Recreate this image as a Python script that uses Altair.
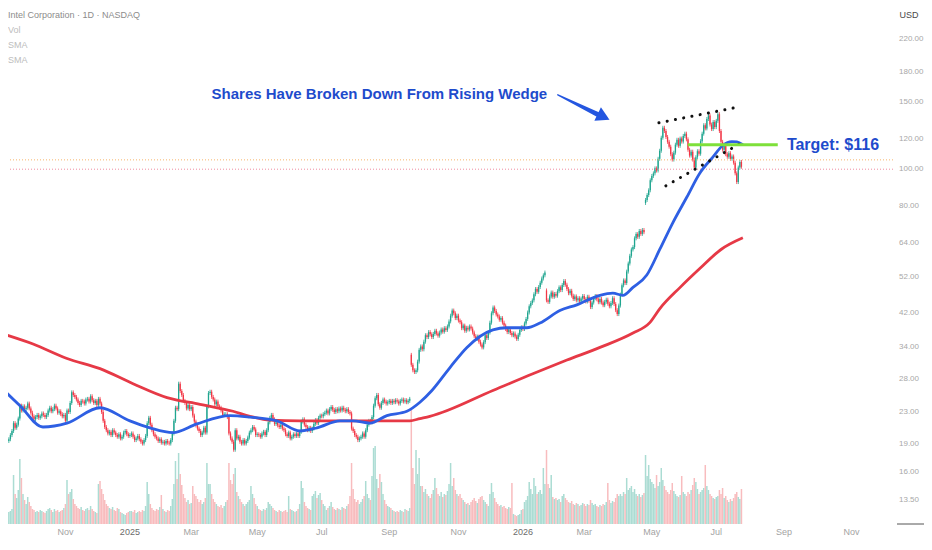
import altair as alt
import numpy as np
import pandas as pd

# ---------------- data ----------------
holidays = ["2024-09-02", "2024-11-28", "2024-12-25", "2025-01-01", "2025-01-09",
            "2025-01-20", "2025-02-17", "2025-04-18", "2025-05-26", "2025-06-19",
            "2025-07-04", "2025-09-01", "2025-11-27", "2025-12-25", "2026-01-01",
            "2026-01-19", "2026-02-16", "2026-04-03", "2026-05-25", "2026-06-19",
            "2026-07-03", "2026-09-07", "2026-11-26", "2026-12-25"]

close_2024_09 = [20.3, 19.9, 19.6, 18.9, 18.9, 19.1, 19.3, 19.5, 20.0, 20.5, 21.5, 20.9, 21.3, 22.1, 23.9, 23.2, 23.8, 23.4, 23.6, 24.2, 23.5]
close_2024_10 = [22.9, 22.4, 22.0, 22.3, 22.6, 22.2, 22.4, 22.8, 22.6, 22.3, 22.6, 23.2, 23.6, 23.1, 23.4, 23.9, 23.5, 22.9, 23.1, 22.7, 22.4, 22.6, 21.8]
close_2024_11 = [23.2, 23.0, 24.3, 25.9, 25.5, 25.2, 24.8, 24.3, 24.0, 24.6, 24.5, 24.2, 24.8, 24.9, 24.5, 25.3, 24.7, 24.3, 24.6, 24.0]
close_2024_12 = [24.9, 24.2, 23.0, 21.8, 21.0, 20.6, 20.2, 20.4, 20.0, 20.6, 20.3, 20.0, 19.8, 20.1, 19.6, 19.8, 20.3, 20.5, 20.1, 19.9, 20.0]
close_2025_01 = [20.2, 19.8, 19.4, 19.6, 19.9, 19.5, 19.2, 19.0, 19.4, 19.9, 21.5, 22.2, 21.3, 20.6, 20.1, 19.8, 19.6, 19.3, 19.5, 19.1]
close_2025_02 = [19.2, 19.0, 19.3, 19.1, 19.0, 19.4, 20.2, 21.8, 23.6, 23.4, 27.3, 26.1, 25.5, 24.6, 24.3, 23.5, 24.0, 23.4, 23.7]
close_2025_03 = [22.5, 21.7, 21.2, 20.8, 20.5, 20.0, 20.3, 20.9, 20.3, 23.8, 25.8, 26.0, 25.2, 24.8, 24.1, 24.5, 23.8, 23.6, 23.2, 22.6, 22.7]
close_2025_04 = [22.7, 22.3, 20.2, 19.6, 19.2, 18.3, 20.6, 19.6, 19.8, 19.2, 19.0, 19.4, 19.0, 19.3, 19.7, 20.3, 20.6, 21.0, 20.7, 20.0, 20.1]
close_2025_05 = [20.0, 19.8, 20.2, 20.4, 20.0, 20.6, 21.6, 22.2, 22.6, 22.0, 21.4, 21.6, 21.2, 21.0, 21.3, 20.8, 20.6, 20.1, 19.9, 20.3, 19.6]
close_2025_06 = [19.8, 20.1, 19.9, 20.2, 19.9, 20.4, 21.7, 22.0, 21.3, 21.0, 20.6, 20.9, 20.5, 20.8, 21.4, 21.9, 21.5, 22.2, 22.5, 22.4]
close_2025_07 = [22.7, 22.9, 23.2, 22.8, 23.4, 23.7, 23.3, 23.0, 23.4, 23.1, 23.5, 23.2, 23.6, 23.3, 23.1, 23.4, 23.0, 22.8, 20.8, 20.5, 20.0, 19.8]
close_2025_08 = [19.4, 19.6, 19.8, 20.2, 19.8, 20.6, 21.3, 21.8, 21.6, 22.3, 23.9, 25.0, 25.5, 24.1, 23.6, 24.3, 24.8, 24.5, 24.2, 24.4, 24.6]
close_2025_09 = [24.3, 24.6, 24.4, 24.7, 24.5, 24.2, 24.6, 24.8, 24.5, 24.7, 24.4, 24.6, 24.9, 30.6, 29.6, 29.3, 29.6, 31.2, 33.5, 34.2, 33.6]
close_2025_10 = [35.2, 36.6, 36.2, 37.3, 36.8, 36.2, 36.9, 37.6, 37.0, 36.5, 37.2, 37.9, 37.4, 38.2, 37.8, 38.6, 39.8, 41.2, 42.5, 41.8, 40.6, 41.2, 40.0]
close_2025_11 = [39.6, 38.2, 38.8, 37.6, 38.3, 37.9, 38.6, 38.1, 37.2, 36.4, 35.8, 36.3, 35.2, 34.6, 34.0, 35.1, 36.6, 36.0, 37.2]
close_2025_12 = [39.5, 41.8, 43.3, 42.4, 41.5, 41.0, 40.2, 40.6, 39.5, 38.8, 38.0, 37.3, 37.9, 37.1, 36.6, 37.0, 36.3, 35.8, 36.7, 37.8, 38.4, 38.0]
close_2026_01 = [39.3, 40.4, 42.0, 43.6, 44.5, 45.2, 46.9, 48.4, 47.6, 49.0, 50.3, 51.6, 52.6, 53.5, 45.2, 44.8, 46.3, 47.4, 46.2, 47.0]
close_2026_02 = [46.5, 47.8, 48.9, 48.1, 49.6, 50.8, 49.7, 48.4, 47.2, 47.9, 46.5, 45.6, 46.3, 45.2, 45.8, 44.9, 45.7, 46.4, 45.5]
close_2026_03 = [44.9, 46.2, 45.1, 43.4, 44.6, 45.8, 46.4, 45.5, 44.7, 45.6, 44.6, 43.9, 44.8, 45.4, 44.3, 43.6, 44.5, 45.8, 44.2, 42.6, 41.6, 43.8]
close_2026_04 = [46.8, 49.5, 51.0, 50.2, 53.8, 56.5, 59.2, 61.5, 62.4, 65.8, 67.5, 66.4, 68.8, 67.6, 69.2, 68.3, 83.0, 85.5, 88.0, 93.5, 96.0]
close_2026_05 = [97.5, 100.5, 99.2, 106.5, 111.8, 121.0, 128.5, 126.0, 121.5, 118.0, 114.6, 109.5, 106.0, 110.5, 116.0, 119.5, 115.2, 120.4, 118.2, 122.3]
close_2026_06 = [124.0, 119.8, 112.5, 108.6, 111.2, 106.0, 101.0, 107.5, 111.5, 109.8, 118.5, 124.0, 130.5, 128.0, 135.5, 138.5, 131.0, 127.5, 133.0, 129.0, 134.0]
close_2026_07 = [139.5, 126.0, 118.0, 112.5, 115.0, 109.5, 107.8, 110.2, 106.5, 108.0, 104.0, 97.5, 92.5, 101.0, 104.5, 101.5]

first_open = 20.6
gap_open_idx = [263, 349, 412]
gap_open_val = [32.5, 48.0, 81.5]

vol_2024_09 = [80, 90, 70, 110, 75, 65, 70, 60, 65, 75, 245, 150, 130, 170, 325, 230, 150, 120, 100, 135, 110]
vol_2024_10 = [90, 75, 70, 60, 65, 60, 70, 65, 60, 55, 65, 75, 80, 70, 60, 75, 65, 70, 60, 65, 70, 80, 100]
vol_2024_11 = [220, 150, 160, 175, 125, 100, 90, 80, 75, 85, 70, 65, 75, 80, 70, 90, 75, 65, 60, 55]
vol_2024_12 = [200, 215, 175, 150, 120, 100, 90, 80, 75, 85, 70, 65, 80, 75, 60, 55, 50, 45, 55, 60, 65]
vol_2025_01 = [65, 60, 70, 55, 60, 65, 60, 70, 65, 90, 210, 150, 100, 80, 70, 65, 75, 70, 85, 145]
vol_2025_02 = [75, 65, 60, 70, 65, 90, 125, 200, 315, 225, 355, 250, 195, 150, 130, 110, 120, 100, 105]
vol_2025_03 = [190, 150, 140, 125, 110, 120, 100, 110, 130, 305, 200, 200, 150, 125, 110, 100, 90, 85, 95, 80, 90]
vol_2025_04 = [110, 120, 305, 220, 200, 250, 280, 160, 140, 125, 110, 100, 90, 100, 110, 120, 190, 150, 130, 100, 90]
vol_2025_05 = [75, 70, 65, 75, 70, 80, 110, 100, 90, 80, 70, 65, 60, 70, 65, 60, 65, 70, 60, 140, 75]
vol_2025_06 = [70, 65, 60, 65, 75, 100, 215, 180, 110, 90, 80, 75, 70, 140, 150, 165, 130, 145, 155, 120]
vol_2025_07 = [100, 90, 70, 80, 90, 110, 85, 75, 70, 80, 75, 70, 85, 80, 75, 90, 100, 140, 305, 175, 125, 110]
vol_2025_08 = [120, 100, 110, 125, 140, 215, 150, 130, 120, 240, 380, 390, 225, 180, 250, 210, 150, 120, 100, 90, 85]
vol_2025_09 = [80, 70, 65, 60, 65, 60, 70, 65, 60, 75, 70, 65, 80, 570, 280, 200, 370, 250, 330, 190, 190]
vol_2025_10 = [160, 175, 150, 140, 130, 150, 170, 230, 180, 150, 140, 160, 135, 150, 145, 165, 200, 305, 190, 230, 170, 150, 140]
vol_2025_11 = [150, 130, 120, 110, 100, 105, 95, 110, 120, 130, 115, 105, 125, 135, 140, 120, 110, 100, 90]
vol_2025_12 = [150, 205, 160, 130, 110, 100, 90, 95, 85, 90, 80, 75, 85, 80, 205, 50, 45, 40, 45, 50, 70, 75]
vol_2026_01 = [110, 120, 140, 210, 175, 150, 230, 190, 150, 160, 170, 150, 280, 200, 370, 200, 180, 245, 135, 125]
vol_2026_02 = [130, 120, 125, 110, 140, 150, 130, 120, 110, 105, 115, 100, 95, 105, 100, 90, 95, 105, 100]
vol_2026_03 = [90, 100, 95, 120, 105, 95, 100, 90, 85, 95, 90, 100, 95, 110, 205, 120, 105, 115, 110, 130, 150, 140]
vol_2026_04 = [150, 140, 160, 150, 230, 170, 180, 190, 160, 175, 150, 140, 150, 135, 145, 155, 345, 240, 295, 225, 210]
vol_2026_05 = [200, 180, 245, 190, 210, 280, 220, 190, 170, 160, 150, 170, 205, 165, 150, 140, 135, 145, 240, 160]
vol_2026_06 = [150, 140, 160, 150, 170, 195, 230, 210, 175, 150, 160, 170, 180, 295, 190, 170, 150, 140, 130, 125, 135]
vol_2026_07 = [140, 170, 150, 180, 130, 140, 120, 110, 125, 115, 130, 150, 160, 135, 125, 175]

# 50-day SMA (blue) and 200-day SMA (red): (bar index, value)
sma50_idx = [1.4, 14.1, 28.7, 44, 65, 84, 96.8, 111.4, 126.7, 147.7, 160.4, 177.5, 192.2, 203, 217.6, 225.9, 236.7, 247.5, 260.2, 268.5, 276.1, 287.6, 298.4, 314.9, 323.8, 336.5, 344.8, 357.5, 368.3, 383, 391.2, 397.6, 404, 412.8, 421.1, 429.4, 438.3, 446.5, 454.8, 461.2, 466.9, 470.1, 473.9]
sma50_val = [26.8, 23.9, 21.0, 21.5, 23.6, 21.8, 20.9, 20.3, 21.4, 22.5, 22.3, 21.8, 20.5, 20.9, 21.8, 21.8, 21.5, 22.5, 23.1, 24.4, 26.2, 30.1, 34.0, 37.8, 38.3, 38.3, 39.4, 42.5, 44.0, 46.6, 47.2, 46.6, 48.9, 52.7, 61.6, 72.4, 84.5, 97.6, 107.6, 115.6, 118.2, 118.0, 116.0]
sma200_idx = [1.4, 22.4, 44, 65, 86, 107.6, 128.6, 149.6, 160.4, 173.1, 192.2, 223.9, 262.1, 268.5, 274.8, 314.9, 340.3, 362, 383, 404, 414.7, 421.1, 434, 446.5, 460, 473.9]
sma200_val = [37.1, 34.7, 31.8, 29.9, 27.3, 25.1, 24.1, 23.1, 22.4, 21.9, 21.8, 21.8, 21.8, 22.1, 22.4, 26.2, 29.0, 31.5, 34.0, 37.1, 39.5, 43.0, 48.9, 54.8, 61.5, 66.0]

# annotations (bar index, price)
price_line_vals = [105.8, 100.0]
wedge_line = ["top", "top", "bottom", "bottom"]
wedge_idx = [420.5, 468.2, 424.9, 473.9]
wedge_price = [132.4, 144.9, 90.4, 117.9]
target_from, target_to, target_price = 438.9, 496.1, 116.0
note_text = "Shares Have Broken Down From Rising Wedge"
note_idx, note_price = 242.7, 157.7
target_text = "Target: $116"
target_text_idx, target_text_price = 501.9, 115.8
arrow_idx = [356.2, 382.3]
arrow_price = [156.8, 138.9]
arrow_width = [1.5, 5.0]
arrow_head_idx, arrow_head_price = 385.3, 137.3

y_ticks = [13.5, 16, 19, 23, 28, 34, 42, 52, 64, 80, 100, 120, 150, 180, 220]

# ---------------- assemble ----------------
closes = (close_2024_09 + close_2024_10 + close_2024_11 + close_2024_12 + close_2025_01 +
          close_2025_02 + close_2025_03 + close_2025_04 + close_2025_05 + close_2025_06 +
          close_2025_07 + close_2025_08 + close_2025_09 + close_2025_10 + close_2025_11 +
          close_2025_12 + close_2026_01 + close_2026_02 + close_2026_03 + close_2026_04 +
          close_2026_05 + close_2026_06 + close_2026_07)
volumes = (vol_2024_09 + vol_2024_10 + vol_2024_11 + vol_2024_12 + vol_2025_01 +
           vol_2025_02 + vol_2025_03 + vol_2025_04 + vol_2025_05 + vol_2025_06 +
           vol_2025_07 + vol_2025_08 + vol_2025_09 + vol_2025_10 + vol_2025_11 +
           vol_2025_12 + vol_2026_01 + vol_2026_02 + vol_2026_03 + vol_2026_04 +
           vol_2026_05 + vol_2026_06 + vol_2026_07)

cal = pd.bdate_range("2024-09-03", "2026-12-31", freq="C", holidays=holidays)
n = len(closes)
opens = [first_open] + closes[:-1]
for i, v in zip(gap_open_idx, gap_open_val):
    opens[i] = v

df = pd.DataFrame({"idx": np.arange(n), "date": cal[:n].strftime("%Y-%m-%d"),
                   "open": opens, "close": closes, "vol": volumes[:n]})
df["high"] = df[["open", "close"]].max(axis=1) * 1.012
df["low"] = df[["open", "close"]].min(axis=1) * 0.988
up = df["close"] >= df["open"]
df["ccol"] = np.where(up, "#1fa58f", "#f23645")
df["vcol"] = np.where(up, "#abdcd3", "#f8bcbe")
df["v0"] = 0

# month ticks on the trading-day axis
tick_idx, tick_lab = [], []
prev_m = None
for i, d in enumerate(cal):
    if d.month != prev_m:
        prev_m = d.month
        if d >= pd.Timestamp("2024-11-01") and d.month in (1, 3, 5, 7, 9, 11):
            tick_idx.append(i)
            tick_lab.append(str(d.year) if d.month == 1 else d.strftime("%b"))
xt = pd.DataFrame({"idx": tick_idx, "t": tick_lab,
                   "col": ["#6b6b6b" if l.isdigit() else "#a3a3a3" for l in tick_lab]})
yt = pd.DataFrame({"v": y_ticks, "t": [f"{v:.2f}" for v in y_ticks]})

FONT = "Liberation Sans"
W, H = 885, 516
PAD_R, PAD_B = 31, 13   # keeps the whole page inside 932 x 550

xscale = alt.Scale(domain=[6.47, 569.4], nice=False, zero=False)
yscale = alt.Scale(type="log", domain=[11.675, 265.3], nice=False)


def X(field):
    return alt.X(field, type="quantitative", scale=xscale, axis=None)


def Y(field):
    return alt.Y(field, type="quantitative", scale=yscale, axis=None)


volume = alt.Chart(df).mark_rule(strokeWidth=1.5, clip=True).encode(
    x=X("idx"),
    y=alt.Y("vol:Q", scale=alt.Scale(domain=[0, 2580], nice=False, zero=True), axis=None),
    y2="v0",
    color=alt.Color("vcol:N", scale=None),
)

wick = alt.Chart(df).mark_rule(strokeWidth=0.8, clip=True).encode(
    x=X("idx"), y=Y("low"), y2="high", color=alt.Color("ccol:N", scale=None))
body = alt.Chart(df).mark_rule(strokeWidth=1.3, clip=True).encode(
    x=X("idx"), y=Y("open"), y2="close", color=alt.Color("ccol:N", scale=None))

plines = alt.Chart(pd.DataFrame({"price": price_line_vals,
                                 "col": ["#f7b46a", "#f08aa0"]})).mark_rule(
    strokeDash=[1, 2], strokeWidth=1).encode(y=Y("price"), color=alt.Color("col:N", scale=None))

sma50 = alt.Chart(pd.DataFrame({"idx": sma50_idx, "val": sma50_val})).mark_line(
    color="#2e5fe3", strokeWidth=2.8, interpolate="monotone", clip=True).encode(
    x=X("idx"), y=Y("val"))
sma200 = alt.Chart(pd.DataFrame({"idx": sma200_idx, "val": sma200_val})).mark_line(
    color="#e63946", strokeWidth=2.8, interpolate="monotone", clip=True).encode(
    x=X("idx"), y=Y("val"))

wedge = alt.Chart(pd.DataFrame({"line": wedge_line, "idx": wedge_idx, "price": wedge_price})).mark_line(
    color="#111111", strokeWidth=3, strokeDash=[0.1, 8.3], strokeCap="round").encode(
    x=X("idx"), y=Y("price"), detail="line:N")

target = alt.Chart(pd.DataFrame({"a": [target_from], "b": [target_to], "price": [target_price]})).mark_rule(
    color="#7ee03a", strokeWidth=3).encode(x=X("a"), x2="b", y=Y("price"))

note = alt.Chart(pd.DataFrame({"idx": [note_idx], "price": [note_price], "t": [note_text]})).mark_text(
    font=FONT, fontSize=15, fontWeight="bold", color="#1e4bcc", align="center",
    baseline="middle").encode(x=X("idx"), y=Y("price"), text="t:N")

target_lab = alt.Chart(pd.DataFrame({"idx": [target_text_idx], "price": [target_text_price],
                                     "t": [target_text]})).mark_text(
    font=FONT, fontSize=16, fontWeight="bold", color="#1e4bcc", align="left",
    baseline="middle").encode(x=X("idx"), y=Y("price"), text="t:N")

shaft = alt.Chart(pd.DataFrame({"idx": arrow_idx, "price": arrow_price, "w": arrow_width})).mark_trail(
    color="#2456e0").encode(x=X("idx"), y=Y("price"), size=alt.Size("w:Q", scale=None))
head = alt.Chart(pd.DataFrame({"idx": [arrow_head_idx], "price": [arrow_head_price]})).mark_point(
    shape="triangle-right", filled=True, size=230, angle=25.7, color="#2456e0", opacity=1).encode(
    x=X("idx"), y=Y("price"))

# price-scale labels (right) and time labels (bottom)
ylabels = alt.Chart(yt).mark_text(font=FONT, fontSize=8, color="#a8a8a8", align="left",
                                  baseline="middle").encode(
    x=alt.value(W + 6), y=Y("v"), text="t:N")
xlabels = alt.Chart(xt).mark_text(font=FONT, fontSize=9, align="center",
                                  baseline="middle").encode(
    x=X("idx"), y=alt.value(H + 8), text="t:N", color=alt.Color("col:N", scale=None))

price = alt.layer(wick, body, plines, sma200, sma50, wedge, target, note, target_lab,
                  shaft, head, ylabels, xlabels)


def label(text, x, y, color, size=9, align="left"):
    return alt.Chart(pd.DataFrame({"t": [text]})).mark_text(
        font=FONT, fontSize=size, color=color, align=align, baseline="middle").encode(
        text="t:N", x=alt.value(x), y=alt.value(y))


legend = [
    label("Intel Corporation \u00b7 1D \u00b7 NASDAQ", 0, 7, "#8c8c8c"),
    label("Vol", 0, 22, "#bdbdbd"),
    label("SMA", 0, 37, "#bdbdbd"),
    label("SMA", 0, 52, "#bdbdbd"),
    label("USD", 901, 7, "#4a4a4a", size=9, align="center"),
]
scale_edge = alt.Chart(pd.DataFrame({"k": [0]})).mark_rule(color="#555555", strokeWidth=1).encode(
    x=alt.value(889), x2=alt.value(W + PAD_R), y=alt.value(H))

chart = alt.layer(volume, price, scale_edge, *legend).resolve_scale(y="independent").properties(
    width=W, height=H,
    autosize=alt.AutoSizeParams(type="none"),
    padding={"left": 0, "top": 0, "right": PAD_R, "bottom": PAD_B},
    background="white",
).configure_view(stroke=None)

chart.save("out.html", embed_options={"renderer": "svg", "actions": False})
